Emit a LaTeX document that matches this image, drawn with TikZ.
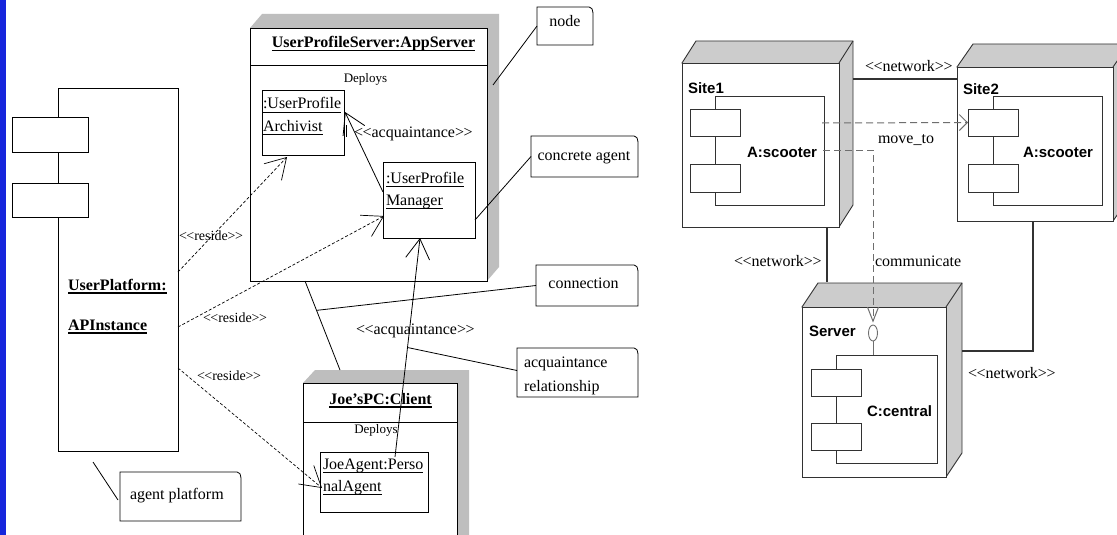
\documentclass[tikz,border=0pt]{standalone}
\usepackage{fontspec}
\setmainfont{Liberation Serif}
\newfontfamily\arialfont{Liberation Sans}
\usetikzlibrary{arrows.meta,fit,calc,shapes.geometric,backgrounds}

\definecolor{barblue}{RGB}{22,38,220}
\definecolor{faceL}{RGB}{190,190,190}
\definecolor{faceR}{RGB}{204,204,204}
\definecolor{lineR}{RGB}{50,50,50}
\definecolor{dashR}{RGB}{110,110,110}

% underlined text with a rule of chosen thickness
\newcommand\ulx[2][0.8]{\setbox0\hbox{#2}\leavevmode\rlap{\rule[-3.5pt]{\wd0}{#1pt}}\box0}
% stereotype brackets written as two separate angle signs
\newcommand\stereo[1]{<\kern-0.5pt<#1>\kern-0.5pt>}
% outline of a note with a folded top-right corner
\newcommand\noteoutline[1]{\draw[wire,fill=white] (#1.north west) -- ([xshift=-4pt]#1.north east)
  .. controls ([xshift=-1pt,yshift=-1pt]#1.north east) .. ([yshift=-6pt]#1.north east)
  -- (#1.south east) -- (#1.south west) -- cycle;}

\tikzset{
  frame/.style={draw=black, line width=0.9pt, fill=white, inner sep=0pt, outer sep=0pt},
  frameR/.style={draw=lineR, line width=0.9pt, fill=white, inner sep=0pt, outer sep=0pt},
  hole/.style={inner sep=0pt, outer sep=0pt},
  txt/.style={inner sep=0pt, outer sep=0pt, font=\fontsize{16}{19}\selectfont},
  txts/.style={inner sep=0pt, outer sep=0pt, font=\fontsize{14}{17}\selectfont},
  txtb/.style={inner sep=0pt, outer sep=0pt, font=\fontsize{16}{19}\selectfont\bfseries},
  txtd/.style={inner sep=0pt, outer sep=0pt, font=\fontsize{13}{15}\selectfont},
  sans/.style={inner sep=0pt, outer sep=0pt, font=\arialfont\fontsize{15}{18}\selectfont\bfseries},
  wire/.style={line width=0.8pt},
  dashwire/.style={line width=0.7pt, dash pattern=on 3pt off 2pt},
  barb/.style={-{Straight Barb[length=20pt,width=24pt]}},
  netwire/.style={line width=1.3pt, draw=lineR},
  dashR/.style={line width=1pt, draw=dashR, dash pattern=on 7pt off 4pt},
}

\begin{document}
\begin{tikzpicture}[x=1pt,y=-1pt]
\clip (0,0) rectangle (1117,535);

% ---------------- left: agent platform deployment ----------------
% component with its two tabs
\node[frame, fit={(58,88)(178,451)}] (upl) {};
\node[frame, fit={(12,117)(88,152)}] (upl1) {};
\node[frame, fit={(12,183)(88,217)}] (upl2) {};
\node[txtb, anchor=base west] (uplt1) at (68,290) {\ulx[1.4]{UserPlatform:}};
\node[txtb, anchor=base west] (uplt2) at (68,330) {\ulx[1.4]{APInstance}};

% application server node
\node[frame, fit={(250,28)(487,281)}] (app) {};
\draw[line width=0.8pt] ([yshift=-37pt]app.north west) -- ([yshift=-37pt]app.north east);
\node[txtb, anchor=base] (appt) at (373.5,48) {\ulx[1.4]{UserProfileServer:AppServer}};
\node[txtd, anchor=base] (appd) at (365.5,83) {Deploys};

\node[frame, fit={(262,90)(344,155)}] (arch) {};
\node[txt, anchor=base west] (arch1) at (263,109) {\ulx{:UserProfile}};
\node[txt, anchor=base west] (arch2) at (263,131) {\ulx{Archivist}};

\node[frame, fit={(383,162)(475,238)}] (mgr) {};
\node[txt, anchor=base west] (mgr1) at (386,183) {\ulx{:UserProfile}};
\node[txt, anchor=base west] (mgr2) at (386,205) {\ulx{Manager}};

\node[txt, anchor=base west] (acqa) at (354,137) {\stereo{acquaintance}};
\draw[wire] ($(arch.north east)+(2,35)$) -- ++(0,12);

% client node
\node[frame, fit={(303,383)(457,548)}] (joe) {};
\draw[line width=0.8pt] ([yshift=-39pt]joe.north west) -- ([yshift=-39pt]joe.north east);
\node[txtb, anchor=base] (joet) at (380.5,404) {\ulx[1.4]{Joe’sPC:Client}};
\node[txtd, anchor=base] (joed) at (376,433) {Deploys};

\node[frame, fit={(320,452)(428,512)}] (ja) {};
\node[txt, anchor=base west] (ja1) at (323,469) {\ulx{JoeAgent:Perso}};
\node[txt, anchor=base west] (ja2) at (323,491) {\ulx{nalAgent}};

% shaded sides of the two nodes
\begin{pgfonlayer}{background}
\fill[white] (0,0) rectangle (1117,535);
\fill[barblue] (0,0) rectangle (6,535);
\fill[faceL] (app.north west) -- ++(12,-14) -| ($(app.south east)+(12,-14)$) -- (app.south east) -- cycle;
\fill[faceL] (joe.north west) -- ++(12,-13) -| ($(joe.south east)+(12,-13)$) -- (joe.south east) -- cycle;
\end{pgfonlayer}

% reside dependencies
\draw[dashwire, barb] ($(upl.north east)+(0,184)$) -- ($(arch.south west)+(25,2)$);
\draw[dashwire, barb] ($(upl.north east)+(0,239)$) -- ($(mgr.north west)+(1,54)$);
\draw[dashwire, barb] ($(upl.north east)+(0,280)$) -- ($(ja.north west)+(2,36)$);
\node[txts, anchor=base west] (res1) at (179,240) {\stereo{reside}};
\node[txts, anchor=base west] (res2) at (203,322) {\stereo{reside}};
\node[txts, anchor=base west] (res3) at (197,380) {\stereo{reside}};

% acquaintances
\draw[wire, barb] ($(mgr.north west)+(0,30)$) -- ($(arch.north east)+(1,22)$);
\coordinate (q1) at ($(ja.north west)+(75,5)$);
\coordinate (q2) at ($(mgr.south west)+(37,0)$);
\draw[wire, barb] (q1) -- (q2);
\node[txt, anchor=base west] (acqb) at (356,334) {\stereo{acquaintance}};

% connection between the nodes
\coordinate (c1) at ($(app.south west)+(55,0)$);
\coordinate (c2) at ($(joe.north west)+(37,-13)$);
\draw[wire] (c1) -- (c2);

% notes
\node[hole, fit={(537,7)(593,45)}] (nn) {};
\noteoutline{nn}
\node[txt, anchor=base] (nnt) at (565,27) {node};

\node[hole, fit={(531,136)(638,177)}] (ca) {};
\noteoutline{ca}
\node[txt, anchor=base] (cat) at (584,160) {concrete agent};

\node[hole, fit={(536,265)(638,306)}] (con) {};
\noteoutline{con}
\node[txt, anchor=base] (cont) at (583.5,288) {connection};

\node[hole, fit={(517,348)(638,397)}] (arn) {};
\noteoutline{arn}
\node[txt, anchor=base west] (arn1) at (524,367) {acquaintance};
\node[txt, anchor=base west] (arn2) at (524,391) {relationship};

\node[hole, fit={(120,472)(241,521)}] (apn) {};
\noteoutline{apn}
\node[txt, anchor=base west] (apnt) at (130,499) {agent platform};

\draw[wire] ($(app.north east)+(6,57)$) -- (nn.west);
\draw[wire] ($(mgr.east)+(0,20)$) -- (ca.west);
\draw[wire] ($(c1)!0.33!(c2)$) -- (con.west);
\draw[wire] ($(q1)!0.5!(q2)$) -- ($(arn.west)+(0,-2)$);
\draw[wire] ($(upl.south west)+(35,11)$) -- ($(apn.north west)+(-2,28)$);

% ---------------- right: mobile agent deployment ----------------
\node[frameR, fit={(682,63)(839,227)}] (s1) {};
\node[frameR, fit={(715,96)(824,205)}] (s1c) {};
\node[frameR, fit={(690,109)(740,136)}] (s1a) {};
\node[frameR, fit={(690,164)(740,192)}] (s1b) {};
\node[sans, anchor=base west] (s1t) at (688,93) {Site1};
\node[sans, anchor=base west] (s1n) at (747,157) {A:scooter};

\node[frameR, fit={(957,67)(1113,221)}] (s2) {};
\node[frameR, fit={(993,96)(1102,205)}] (s2c) {};
\node[frameR, fit={(968,109)(1018,136)}] (s2a) {};
\node[frameR, fit={(968,164)(1018,192)}] (s2b) {};
\node[sans, anchor=base west] (s2t) at (963,95) {Site2};
\node[sans, anchor=base west] (s2n) at (1023,157) {A:scooter};

\node[frameR, fit={(802,307)(946,477)}] (srv) {};
\node[frameR, fit={(836,355)(937,463)}] (srvc) {};
\node[frameR, fit={(811,369)(861,396)}] (srva) {};
\node[frameR, fit={(811,423)(861,450)}] (srvb) {};
\node[sans, anchor=base west] (srvt) at (809,336) {Server};
\node[sans, anchor=base west] (srvn) at (867,416) {C:central};

\begin{pgfonlayer}{background}
\filldraw[faceR, draw=lineR, line width=0.9pt] (s1.north west) -- ++(14,-22) -| ($(s1.south east)+(14,-22)$) -- (s1.south east) -- cycle;
\draw[lineR, line width=0.9pt] (s1.north east) -- ++(14,-22);
\filldraw[faceR, draw=lineR, line width=0.9pt] (s2.north west) -- ++(16,-23) -| ($(s2.south east)+(16,-23)$) -- (s2.south east) -- cycle;
\draw[lineR, line width=0.9pt] (s2.north east) -- ++(16,-23);
\filldraw[faceR, draw=lineR, line width=0.9pt] (srv.north west) -- ++(16,-24) -| ($(srv.south east)+(16,-24)$) -- (srv.south east) -- cycle;
\draw[lineR, line width=0.9pt] (srv.north east) -- ++(16,-24);
\end{pgfonlayer}

% network links
\draw[netwire] ($(s1.north east)+(14,16)$) -- ($(s2.north west)+(0,12)$);
\draw[netwire] ($(s1.south west)+(145,0)$) -- ($(srv.north west)+(25,-25)$);
\draw[netwire] ($(s2.south west)+(76,0)$) |- ($(srv.north east)+(16,44)$);
\node[txt, anchor=base west] (n1) at (865,72) {\stereo{network}};
\node[txt, anchor=base west] (n2) at (734,266) {\stereo{network}};
\node[txt, anchor=base west] (n3) at (968,378) {\stereo{network}};

% migration and communication
\draw[dashR, -{Straight Barb[length=8pt,width=16pt]}] ($(s1c.north east)+(-2,27)$) -- (s2a.west);
\node[txt, anchor=base west] (mv) at (878,143) {move\_to};

\node[draw=dashR, line width=0.9pt, ellipse, minimum width=9pt, minimum height=16pt, inner sep=0pt] (lol) at (873,333) {};
\draw[dashR, -{Straight Barb[length=14pt,width=11pt]}] ($(s1c.north east)+(-1,54)$) -| ([yshift=2pt]lol.north);
\draw[line width=1pt, draw=dashR] (lol.south) -- (lol.south |- srvc.north);
\node[txt, anchor=base west] (cm) at (875,266) {communicate};
\end{tikzpicture}
\end{document}
